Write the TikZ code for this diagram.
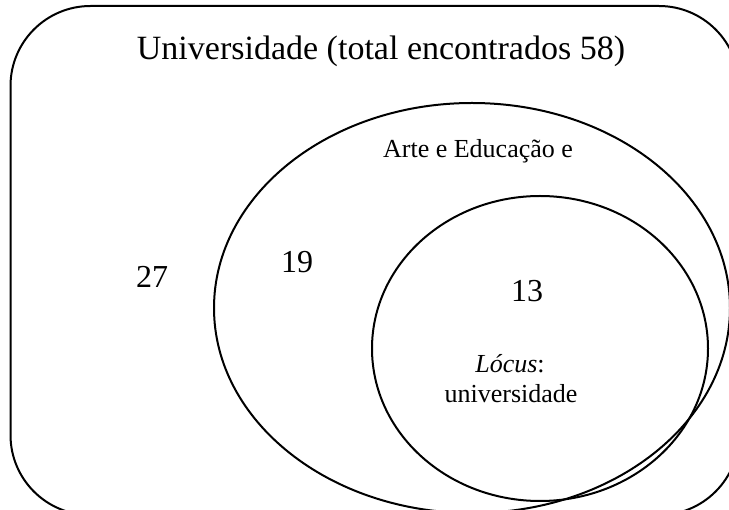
\documentclass[tikz,border=0pt]{standalone}
\usepackage{fontspec}
\setmainfont{Liberation Serif}
\begin{document}
\begin{tikzpicture}[x=1pt,y=-1pt,
  shape line/.style={draw=black,line width=2pt},
  bigtxt/.style={font=\fontsize{34}{40}\selectfont,anchor=base,inner sep=0pt},
  numtxt/.style={font=\fontsize{32}{38}\selectfont,anchor=base,inner sep=0pt},
  smalltxt/.style={font=\fontsize{26}{30}\selectfont,anchor=base,inner sep=0pt,align=center}]
\useasboundingbox (0,0) rectangle (729,510);
\clip (0,0) rectangle (729,510);
\fill[white] (0,0) rectangle (729,510);
% outer rounded rectangle
\draw[shape line,rounded corners=80pt] (10.5,6) rectangle (739,515);
% big ellipse
\draw[shape line] (472,308) ellipse [x radius=258, y radius=205];
% small ellipse
\draw[shape line] (540,348.5) ellipse [x radius=168, y radius=152.5];
% texts
\node[bigtxt] (title) at (381,60) {Universidade (total encontrados 58)};
\node[smalltxt] (arte) at (478,158) {Arte e Educação e};
\node[numtxt] (n27) at (152,288) {27};
\node[numtxt] (n19) at (297,273) {19};
\node[numtxt] (n13) at (527,302) {13};
\node[smalltxt] (locus) at (510,373) {\textit{Lócus}:};
\node[smalltxt] (univ) at (511,403) {universidade};
\end{tikzpicture}
\end{document}
